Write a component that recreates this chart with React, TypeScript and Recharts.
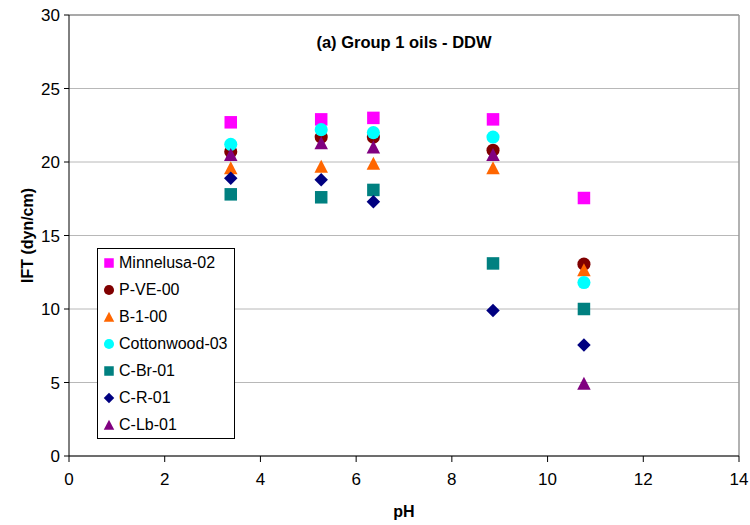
import React from 'react';
import {
  ScatterChart,
  Scatter,
  XAxis,
  YAxis,
  CartesianGrid,
  ReferenceLine,
} from 'recharts';

// pH values at which each oil was measured
const phValues = [3.38, 5.27, 6.36, 8.86, 10.76];

// Interfacial tension (dyn/cm) per oil, one value per pH
const minnelusa02 = [22.7, 22.9, 23.0, 22.9, 17.55];
const pVe00 = [20.7, 21.7, 21.7, 20.8, 13.05];
const b100 = [19.6, 19.7, 19.9, 19.6, 12.65];
const cottonwood03 = [21.2, 22.2, 22.0, 21.7, 11.8];
const cBr01 = [17.8, 17.6, 18.1, 13.1, 10.0];
const cR01 = [18.9, 18.8, 17.3, 9.9, 7.55];
const cLb01 = [20.5, 21.3, 21.0, 20.5, 4.93];

const xTicks = [0, 2, 4, 6, 8, 10, 12, 14];
const yTicks = [0, 5, 10, 15, 20, 25, 30];

type Kind = 'square' | 'circle' | 'triangle' | 'diamond';

const seriesList: { name: string; values: number[]; color: string; kind: Kind }[] = [
  { name: 'Minnelusa-02', values: minnelusa02, color: '#FF00FF', kind: 'square' },
  { name: 'P-VE-00', values: pVe00, color: '#800000', kind: 'circle' },
  { name: 'B-1-00', values: b100, color: '#FF6600', kind: 'triangle' },
  { name: 'Cottonwood-03', values: cottonwood03, color: '#00FFFF', kind: 'circle' },
  { name: 'C-Br-01', values: cBr01, color: '#008080', kind: 'square' },
  { name: 'C-R-01', values: cR01, color: '#000080', kind: 'diamond' },
  { name: 'C-Lb-01', values: cLb01, color: '#800080', kind: 'triangle' },
];

const FONT = 'Arial, "Liberation Sans", sans-serif';

function markerShape(kind: Kind, color: string, cx: number, cy: number, s: number) {
  const h = s / 2;
  switch (kind) {
    case 'square':
      return <rect x={cx - h} y={cy - h} width={s} height={s} fill={color} />;
    case 'circle':
      return <circle cx={cx} cy={cy} r={h + 0.3} fill={color} />;
    case 'triangle':
      return (
        <polygon
          points={`${cx},${cy - h - 0.5} ${cx + h + 0.5},${cy + h} ${cx - h - 0.5},${cy + h}`}
          fill={color}
        />
      );
    case 'diamond':
    default:
      return (
        <polygon
          points={`${cx},${cy - h - 0.5} ${cx + h + 0.5},${cy} ${cx},${cy + h + 0.5} ${cx - h - 0.5},${cy}`}
          fill={color}
        />
      );
  }
}

function makeShape(kind: Kind, color: string) {
  return (props: any) => {
    const { cx, cy } = props;
    if (cx == null || cy == null) return <g />;
    return markerShape(kind, color, cx, cy, 12.5);
  };
}

function YAxisTitle(props: any) {
  const vb = props.viewBox || {};
  const cx = 27;
  const cy = (vb.y ?? 0) + (vb.height ?? 0) / 2;
  return (
    <text
      x={cx}
      y={cy}
      transform={`rotate(-90, ${cx}, ${cy})`}
      textAnchor="middle"
      dominantBaseline="central"
      fontFamily={FONT}
      fontWeight="bold"
      fontSize={16}
      fill="#000"
    >
      IFT (dyn/cm)
    </text>
  );
}

function XAxisTitle(props: any) {
  const vb = props.viewBox || {};
  const cx = (vb.x ?? 0) + (vb.width ?? 0) / 2;
  return (
    <text
      x={cx}
      y={511}
      textAnchor="middle"
      dominantBaseline="central"
      fontFamily={FONT}
      fontWeight="bold"
      fontSize={16}
      fill="#000"
    >
      pH
    </text>
  );
}

function LegendBox() {
  return (
    <div
      style={{
        position: 'absolute',
        left: 97,
        top: 248,
        width: 136,
        height: 189,
        border: '1px solid #000',
        background: '#fff',
        fontFamily: FONT,
        fontSize: 16,
        color: '#000',
      }}
    >
      {seriesList.map((s, i) => (
        <div
          key={s.name}
          style={{
            position: 'absolute',
            left: 0,
            top: 14 + i * 27 - 10,
            height: 20,
            display: 'flex',
            alignItems: 'center',
            whiteSpace: 'nowrap',
          }}
        >
          <svg width={21} height={20} style={{ display: 'block' }}>
            {markerShape(s.kind, s.color, 11, 10, 9.5)}
          </svg>
          <span style={{ lineHeight: '20px' }}>{s.name}</span>
        </div>
      ))}
    </div>
  );
}

export default function App() {
  return (
    <div
      style={{
        position: 'relative',
        width: 750,
        height: 525,
        overflow: 'hidden',
        background: '#fff',
      }}
    >
      <style>{'html, body { margin: 0; padding: 0; overflow: hidden; }'}</style>
      <ScatterChart
        width={750}
        height={525}
        margin={{ top: 15, right: 11, bottom: 0, left: 0 }}
      >
        <CartesianGrid vertical={false} stroke="#b8b8b8" strokeWidth={1} />
        <XAxis
          type="number"
          dataKey="ph"
          domain={[0, 14]}
          ticks={xTicks}
          allowDataOverflow
          height={69}
          tickSize={6}
          tickMargin={11}
          axisLine={{ stroke: '#000', strokeWidth: 1 }}
          tickLine={{ stroke: '#000' }}
          tick={{ fill: '#000', fontSize: 17, fontFamily: FONT }}
          label={<XAxisTitle />}
        />
        <YAxis
          type="number"
          dataKey="ift"
          domain={[0, 30]}
          ticks={yTicks}
          allowDataOverflow
          width={69}
          tickSize={5}
          tickMargin={4}
          axisLine={{ stroke: '#000', strokeWidth: 1 }}
          tickLine={{ stroke: '#000' }}
          tick={{ fill: '#000', fontSize: 17, fontFamily: FONT }}
          label={<YAxisTitle />}
        />
        <ReferenceLine y={30} stroke="#999" strokeWidth={1.5} />
        <ReferenceLine x={14} stroke="#999" strokeWidth={1.5} />
        {seriesList.map((s) => (
          <Scatter
            key={s.name}
            name={s.name}
            data={phValues.map((p, i) => ({ ph: p, ift: s.values[i] }))}
            fill={s.color}
            shape={makeShape(s.kind, s.color)}
            isAnimationActive={false}
          />
        ))}
      </ScatterChart>
      <div
        style={{
          position: 'absolute',
          left: 0,
          top: 33,
          width: 808,
          textAlign: 'center',
          fontFamily: FONT,
          fontWeight: 'bold',
          fontSize: 16.5,
          color: '#000',
          lineHeight: '18px',
        }}
      >
        (a) Group 1 oils - DDW
      </div>
      <LegendBox />
    </div>
  );
}
